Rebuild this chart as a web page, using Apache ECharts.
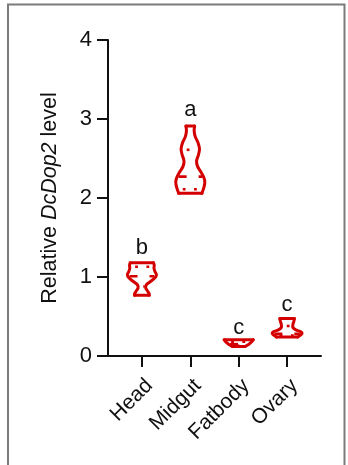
<!DOCTYPE html>
<html><head><meta charset="utf-8">
<script src="https://cdn.jsdelivr.net/npm/echarts@6/dist/echarts.min.js"></script>
<style>html,body{margin:0;padding:0;background:#fff}#c{width:348px;height:465px}</style>
</head><body><div id="c"></div>
<script>
// ---- data ----
const categories = ['Head', 'Midgut', 'Fatbody', 'Ovary'];
const yTicks = [0, 1, 2, 3, 4];
// violin outlines: [value, half-width in category units], top to bottom
const headProfile = [[1.18,0.24],[1.15,0.255],[1.11,0.25],[1.07,0.27],[1.03,0.30],[0.99,0.27],[0.94,0.17],[0.90,0.09],[0.86,0.08],[0.82,0.12],[0.79,0.15],[0.77,0.15]];
const midgutProfile = [[2.91,0.09],[2.85,0.08],[2.78,0.10],[2.70,0.16],[2.62,0.19],[2.55,0.17],[2.47,0.13],[2.40,0.15],[2.33,0.22],[2.26,0.28],[2.20,0.30],[2.13,0.28],[2.06,0.24]];
const fatbodyProfile = [[0.205,0.30],[0.18,0.27],[0.15,0.21],[0.12,0.13]];
const ovaryProfile = [[0.475,0.15],[0.44,0.14],[0.40,0.12],[0.36,0.12],[0.33,0.18],[0.30,0.30],[0.27,0.29],[0.24,0.22]];
const medians = [1.01, 2.27, 0.15, 0.28];
const q1 = [0.88, 2.11, 0.13, 0.26];
const q3 = [1.13, 2.61, 0.18, 0.38];
const letters = ['b', 'a', 'c', 'c'];
const letterY = [1.37, 3.12, 0.36, 0.65];

const profiles = [headProfile, midgutProfile, fatbodyProfile, ovaryProfile];
const RED = '#d40000';
const FONT = 'Liberation Sans, Arial, sans-serif';

function halfAt(prof, v) {
  for (let k = 0; k < prof.length - 1; k++) {
    const a = prof[k], b = prof[k + 1];
    if (v <= a[0] && v >= b[0]) {
      const t = (a[0] - v) / (a[0] - b[0]);
      return a[1] + (b[1] - a[1]) * t;
    }
  }
  return prof[prof.length - 1][1];
}

function renderItem(params, api) {
  const i = params.dataIndex;
  const prof = profiles[i];
  const cx = i + 1;
  const right = prof.map(p => api.coord([cx + p[1], p[0]]));
  const left = prof.map(p => api.coord([cx - p[1], p[0]]));
  const st = {stroke: RED, lineWidth: 3, fill: null, lineCap: 'round', lineJoin: 'round'};
  const children = [];
  const inner = (v, dash, off) => {
    const h = Math.max(halfAt(prof, v) - 0.03, 0.01);
    const a = api.coord([cx - h, v]), b = api.coord([cx + h, v]);
    children.push({type: 'line', shape: {x1: a[0], y1: a[1], x2: b[0], y2: b[1]},
      style: {stroke: RED, lineWidth: 2.6, lineDash: dash, lineDashOffset: off || 0}});
  };
  inner(medians[i], [8, 12], 0);
  inner(q1[i], [2.8, 8.5], -4);
  inner(q3[i], [2.8, 8.5], -4);
  children.push({type: 'polyline', shape: {points: right, smooth: 0.35}, style: st});
  children.push({type: 'polyline', shape: {points: left, smooth: 0.35}, style: st});
  children.push({type: 'line', shape: {x1: left[0][0], y1: left[0][1], x2: right[0][0], y2: right[0][1]}, style: st});
  const n = prof.length - 1;
  children.push({type: 'line', shape: {x1: left[n][0], y1: left[n][1], x2: right[n][0], y2: right[n][1]}, style: st});
  const tp = api.coord([cx, letterY[i]]);
  children.push({type: 'text', x: tp[0], y: tp[1], style: {text: letters[i], fill: '#111', font: '22px ' + FONT, align: 'center', verticalAlign: 'middle'}});
  return {type: 'group', children};
}

const chart = echarts.init(document.getElementById('c'), null, {renderer: 'canvas'});
chart.setOption({
  animation: false,
  backgroundColor: '#fff',
  graphic: [{type: 'rect', shape: {x: 8, y: 4.5, width: 336.5, height: 480}, style: {fill: null, stroke: '#7b7b7b', lineWidth: 2}, silent: true}],
  grid: {left: 108, right: 27, top: 40, bottom: 109},
  xAxis: {
    type: 'value', min: 0.3, max: 4.7,
    axisLine: {onZero: false, lineStyle: {color: '#111', width: 2}},
    axisTick: {customValues: [1, 2, 3, 4], length: 11, lineStyle: {color: '#111', width: 2}},
    axisLabel: {customValues: [1, 2, 3, 4], formatter: v => categories[Math.round(v) - 1] || '', rotate: 45, margin: 19, verticalAlign: 'top', fontSize: 21, color: '#111', fontFamily: FONT},
    splitLine: {show: false}
  },
  yAxis: {
    type: 'value', min: 0, max: 4, interval: 1,
    axisLine: {show: true, onZero: false, lineStyle: {color: '#111', width: 2}},
    axisTick: {show: true, length: 11, lineStyle: {color: '#111', width: 2}},
    axisLabel: {margin: 16, fontSize: 22, color: '#111', fontFamily: FONT, formatter: v => yTicks.includes(v) ? String(v) : ''},
    splitLine: {show: false},
    name: '{n|Relative }{i|DcDop2}{n| level}', nameLocation: 'middle', nameGap: 47, nameRotate: 90,
    nameTextStyle: {fontSize: 21.5, color: '#111', fontFamily: FONT,
      rich: {n: {fontSize: 21.5, color: '#111', fontFamily: FONT}, i: {fontSize: 21.5, color: '#111', fontFamily: FONT, fontStyle: 'italic'}}}
  },
  series: [{type: 'custom', renderItem, data: [0, 1, 2, 3], clip: false}]
});
</script></body></html>
